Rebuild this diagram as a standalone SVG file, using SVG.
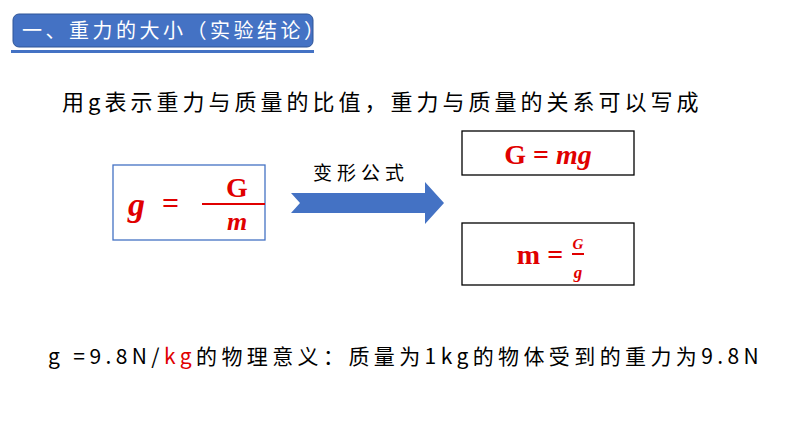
<svg xmlns="http://www.w3.org/2000/svg" width="794" height="447" viewBox="0 0 794 447">
<style>
.cjk{font-family:"Noto Sans CJK SC","Noto Sans",sans-serif}
.f{font-family:"Liberation Serif",serif;font-weight:bold;fill:#e00000}
.box{fill:#fff;stroke-width:1.3}
</style>
<rect width="794" height="447" fill="#fff"/>
<g id="title">
<rect x="13" y="14" width="300" height="33" rx="6" fill="#4472c4" stroke="#2f5597"/>
<rect x="11" y="50" width="303" height="3" fill="#4472c4"/>
<text x="22" y="38" class="cjk" font-size="20" fill="#fff" letter-spacing="3.5">一、重力的大小（实验结论）</text>
</g>
<g id="intro"><text x="62" y="110" class="cjk" font-size="22" fill="#000" letter-spacing="4">用g表示重力与质量的比值，重力与质量的关系可以写成</text></g>
<g id="left">
<rect x="113" y="165" width="152" height="75" class="box" stroke="#4472c4"/>
<text x="128" y="216" class="f" font-size="34" font-style="italic">g</text>
<text x="162" y="213" class="f" font-size="30">=</text>
<line x1="202" y1="204" x2="265" y2="204" stroke="#e00000" stroke-width="2"/>
<text x="237" y="197" class="f" font-size="28" text-anchor="middle">G</text>
<text x="237" y="230" class="f" font-size="26" font-style="italic" text-anchor="middle">m</text>
</g>
<g id="connectors">
<polygon points="291,193 425,193 425,182 444,203 425,224 425,213 291,213 300,203" fill="#4472c4"/>
<text x="313" y="180" class="cjk" font-size="19" fill="#000" letter-spacing="5">变形公式</text>
</g>
<g id="r1">
<rect x="462" y="131" width="172" height="44" class="box" stroke="#000"/>
<text x="548" y="164" class="f" font-size="28" text-anchor="middle">G = <tspan font-style="italic">mg</tspan></text>
</g>
<g id="r2">
<rect x="462" y="223" width="172" height="62" class="box" stroke="#000"/>
<text x="540" y="264" class="f" font-size="28" text-anchor="middle">m =</text>
<line x1="572" y1="254" x2="584" y2="254" stroke="#e00000" stroke-width="2"/>
<text x="578" y="249" class="f" font-size="15" font-style="italic" text-anchor="middle">G</text>
<text x="578" y="278" class="f" font-size="17" font-style="italic" text-anchor="middle">g</text>
</g>
<g id="bottom"><text x="48" y="364" class="cjk" font-size="21" fill="#000" letter-spacing="4.4">g =9.8N/<tspan fill="#e00000">kg</tspan>的物理意义：质量为1kg的物体受到的重力为9.8N</text></g>
</svg>
